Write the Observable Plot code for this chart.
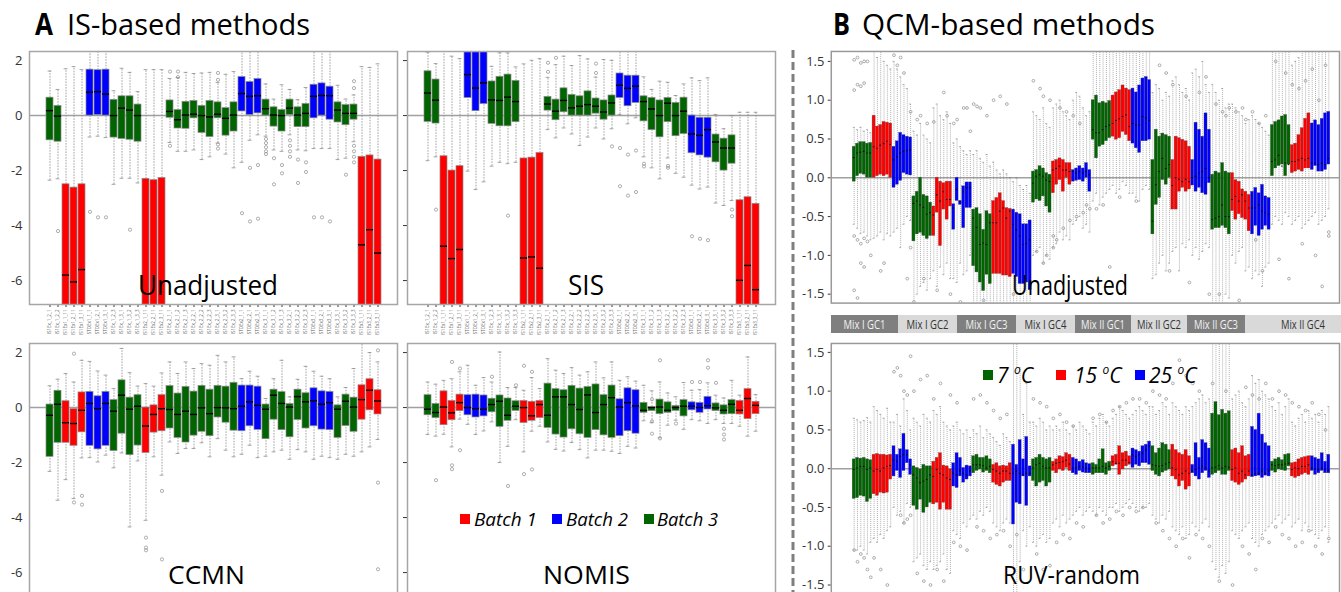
<!DOCTYPE html>
<html><head><meta charset="utf-8">
<script src="https://cdn.jsdelivr.net/npm/d3@7"></script>
<script src="https://cdn.jsdelivr.net/npm/@observablehq/plot@0.6"></script>
<style>
html,body{margin:0;padding:0;background:#fff;}
#page{position:relative;width:1341px;height:592px;overflow:hidden;background:#fff;font-family:"Open Sans",sans-serif;}
.pn{position:absolute;}
.pn svg{display:block;overflow:visible;}
.tiny [aria-label^="x-axis"] text{font-size:4.5px;fill:#666;}
#ov{position:absolute;left:0;top:0;pointer-events:none;}
</style></head>
<body><div id="page"></div>
<script>
// ---------------- DATA ----------------
const sampleLabels = ["IS1Ex_1_2_1","IS1Ex_1_2_2","IS1Ex1_1_11","IS1Ex1_2_11","IS1Ex1_3_11","STDEx1_1_1","STDEx1_2_1","STDEx1_3_1","IS1Ex_1_2_3","IS1Ex_1_3_1","IS1Ex_1_3_2","IS1Ex_1_3_3","IS1Ex2_1_11","IS1Ex2_2_11","IS1Ex2_3_11","IS1Ex_2_1_1","IS1Ex_2_1_2","IS1Ex_2_1_3","IS1Ex_2_2_1","IS1Ex_2_2_2","IS1Ex_2_2_3","IS1Ex_2_3_1","IS1Ex_2_3_2","IS1Ex_2_3_3","STDEx2_1_1","STDEx2_2_1","STDEx2_3_1","IS1Ex_3_1_1","IS1Ex_3_1_2","IS1Ex_3_1_3","IS1Ex_3_2_1","IS1Ex_3_2_2","IS1Ex_3_2_3","STDEx3_1_1","STDEx3_2_1","STDEx3_3_1","IS1Ex_3_3_1","IS1Ex_3_3_2","IS1Ex_3_3_3","IS1Ex3_1_11","IS1Ex3_2_11","IS1Ex3_3_11"];
const batch = [3,3,1,1,1,2,2,2,3,3,3,3,1,1,1,3,3,3,3,3,3,3,3,3,2,2,2,3,3,3,3,3,3,2,2,2,3,3,3,1,1,1];
const batchNames = ["Batch 1","Batch 2","Batch 3"];
const batchColors = ["#ff0000","#0000ff","#006400"];

// Unadjusted (IS)
const unadjQ3 = [0.65,0.35,-2.5,-2.62,-2.5,1.67,1.65,1.67,0.57,0.7,0.7,0.4,-2.3,-2.35,-2.27,0.55,0.2,0.5,0.53,0.35,0.53,0.48,0.27,0.48,1.4,1.22,1.33,0.58,0.3,0.2,0.58,0.3,0.42,1.12,1.17,1.05,0.48,0.38,0.4,-1.5,-1.45,-1.6];
const unadjQ1 = [-0.9,-0.95,-8,-8,-8,0,0.02,0,-0.8,-0.85,-0.88,-0.95,-8,-8,-8,-0.08,-0.47,-0.48,-0.1,-0.63,-0.78,-0.1,-0.73,-0.58,0.15,0.02,0.08,0,-0.4,-0.58,0.02,-0.42,-0.42,-0.1,0,-0.15,-0.25,-0.35,-0.15,-8,-8,-8];
const unadjMed = [0.18,-0.02,-5.8,-6.05,-5.6,0.85,0.87,0.78,0,0.27,0.2,0,-7.5,-7.5,-7.5,0.15,-0.15,0.02,0.05,0,-0.05,0.05,-0.1,0.02,0.8,0.7,0.72,0.25,0.02,0,0.27,0.02,0.08,0.7,0.73,0.72,0.2,0.08,0.08,-4.7,-4.15,-5.0];
const unadjHi = [1.62,0.95,1.7,1.78,1.67,2.6,2.6,2.6,0.9,1.72,1.57,0.87,1.67,1.67,1.67,1.35,1.38,1.57,1.53,1.55,1.57,1.2,1.5,1.6,2.6,2.6,2.6,1.15,0.6,1.12,0.95,0.58,1.02,2.6,2.6,2.6,1.1,0.6,0.75,1.78,1.75,1.88];
const unadjLo = [-2.35,-2.3,-8,-8,-8,-0.78,-0.75,-0.8,-2.5,-2.28,-2.28,-2.45,-8,-8,-8,-0.98,-1.3,-1.3,-1.25,-1.6,-1.5,-1.0,-1.4,-1.9,-1.7,-0.9,-0.7,-0.75,-1.25,-1.3,-0.7,-1.25,-1.28,-1.2,-1.2,-1.2,-1.6,-1.55,-0.95,-8,-8,-8];
const unadjOut = [[2,-4.2],[6,-3.5],[7,-3.7],[8,-3.7],[11,-4.15],[16,1.6],[16,-1.1],[17,1.6],[17,1.4],[22,1.3],[22,1.55],[22,-1.05],[22,-1.2],[25,-3.55],[26,-1.9],[26,-3.85],[27,-1.8],[27,-3.75],[28,-0.85],[28,-1.0],[28,-1.15],[28,-1.3],[28,-1.4],[29,-1.55],[29,-2.5],[30,-1.8],[30,-2.1],[31,-0.9],[31,-1.1],[31,-1.3],[31,-1.5],[32,-1.6],[32,-2.45],[33,-1.7],[33,-2.05],[34,-3.7],[35,-3.7],[36,-3.85],[38,-2.15],[39,1.0],[39,1.25],[39,-1.1],[39,-1.3],[39,-1.5],[39,-1.7]];

// SIS
const sisQ3 = [1.61,1.31,-1.48,-2.0,-1.84,2.6,2.6,2.6,1.24,1.41,1.49,1.26,-1.56,-1.53,-1.36,0.68,0.58,0.99,0.75,0.7,0.88,0.62,0.55,0.73,1.53,1.45,1.45,0.7,0.64,0.55,0.64,0.46,0.65,0,-0.08,-0.08,-0.69,-0.84,-0.72,-3.08,-2.97,-3.21];
const sisQ1 = [-0.23,-0.29,-8,-8,-8,0.64,0.16,0.42,-0.3,-0.39,-0.39,-0.24,-8,-8,-8,0.18,-0.17,0.12,0,0,0,0.07,-0.15,0,0.64,0.34,0.46,-0.21,-0.53,-0.79,-0.24,-0.75,-0.67,-1.37,-1.45,-1.53,-1.7,-2.0,-1.75,-8,-8,-8];
const sisMed = [0.82,0.56,-4.75,-5.2,-4.87,1.49,1.0,1.19,0.57,0.55,0.67,0.51,-5.18,-5.14,-5.55,0.42,0.16,0.55,0.28,0.34,0.4,0.34,0.13,0.46,1.1,0.99,1.07,0.51,0.24,0,0.45,0,0.16,-0.67,-0.72,-0.51,-0.96,-1.18,-1.18,-5.99,-5.45,-6.33];
const sisHi = [2.3,1.89,2.34,2.16,2.07,2.6,2.6,2.6,1.79,2.28,2.28,1.77,1.88,2.01,2.07,1.39,1.85,2.16,1.82,2.18,2.06,1.4,2.04,2.01,2.34,2.34,2.34,1.41,0.95,1.25,1.21,0.73,1.15,1.37,1.27,1.37,0.04,-0.48,0,0.12,0.12,0.12];
const sisLo = [-1.64,-1.5,-8,-8,-8,-2.02,-2.69,-2.41,-1.84,-1.7,-1.75,-1.7,-8,-8,-8,-0.51,-0.81,-0.45,-0.67,-1.09,-0.78,-0.45,-0.85,-0.48,0.04,-0.3,-0.08,-1.5,-1.9,-2.3,-1.54,-2.1,-2.24,-2.53,-2.67,-2.6,-3.18,-3.27,-3.09,-8,-8,-8];
const sisOut = [[2,-3.42],[11,-3.64],[16,1.92],[16,1.59],[17,2.1],[22,1.89],[22,1.55],[24,-1.12],[25,-1.18],[25,-2.57],[26,-1.42],[26,-2.91],[27,-1.27],[27,-2.78],[28,-1.75],[28,-1.85],[31,-1.83],[31,-1.9],[34,-4.39],[35,-4.48],[36,-4.53],[39,-3.42],[39,-3.66]];

// CCMN
const ccmnQ3 = [0.11,0.61,0.23,-0.06,0.55,0.57,0.41,0.57,0.27,0.99,0.36,0.45,0,0.08,0.45,0.78,0.51,0.75,0.58,0.79,0.65,0.79,0.76,0.9,0.8,0.8,0.76,0.11,0.65,0.56,0.13,0.65,0.52,0.7,0.59,0.57,0.08,0.47,0.36,0.81,1.03,0.63];
const ccmnQ1 = [-1.79,-1.28,-1.28,-1.39,-0.9,-1.39,-1.52,-1.39,-1.58,-0.95,-1.73,-1.38,-1.65,-0.91,-0.86,-0.76,-1.1,-1.27,-1.02,-0.88,-1.04,-0.36,-0.55,-0.84,-0.86,-0.68,-0.81,-1.15,-0.44,-0.82,-1.08,-0.45,-0.76,-0.68,-0.8,-0.82,-1.1,-0.67,-0.88,-0.44,-0.1,-0.25];
const ccmnMed = [-0.28,0.12,-0.55,-0.58,-0.1,0.15,-0.04,0.15,-0.13,0.45,-0.06,0.05,-0.67,-0.25,-0.04,-0.07,-0.25,-0.13,-0.25,-0.01,-0.22,0,-0.01,-0.04,0.05,0.21,0.08,-0.06,0.45,0.15,0.02,0.4,0.21,0.25,0.12,0.18,-0.06,0.23,0.02,0.29,0.63,0.24];
const ccmnHi = [0.79,1.03,1.24,0.93,1.72,1.68,1.33,1.18,0.69,2.15,1.27,0.78,0.87,0.78,1.26,1.66,1.24,1.66,1.42,1.6,1.54,1.9,1.66,1.84,1.05,1.32,1.14,0.33,1.05,1.72,0.39,1.03,1.5,1.32,1.14,1.05,0.39,0.73,1.42,2.33,2.0,1.66];
const ccmnLo = [-2.32,-3.37,-2.62,-3.31,-1.83,-1.82,-1.98,-1.73,-2.19,-1.65,-4.34,-1.94,-4.1,-1.79,-2.46,-1.25,-1.67,-1.49,-1.49,-1.28,-1.79,-1.13,-1.55,-1.79,-1.7,-1.37,-1.82,-1.77,-1.61,-1.55,-1.88,-1.53,-1.61,-1.88,-1.77,-1.82,-1.88,-1.7,-1.77,-1.61,-1.43,-1.16];
const ccmnOut = [[4,1.96],[4,-3.45],[5,-3.21],[5,-3.53],[13,-4.73],[13,-5.09],[13,-5.19],[15,-3.03],[15,-5.52],[42,2.08],[42,-2.73],[42,-5.88]];

// NOMIS
const nomisQ3 = [0.45,0.13,0.59,0.24,0.47,0.45,0.47,0.44,0.32,0.44,0.33,0.23,0.24,0.21,0.24,0.87,0.67,0.63,0.79,0.69,0.75,0.84,0.45,0.8,0.3,0.7,0.63,0.17,0.02,0.29,0.19,0.06,0.27,0.19,0.17,0.39,0.15,0.08,0.27,0.24,0.67,0.21];
const nomisQ1 = [-0.28,-0.38,-0.64,-0.46,-0.13,-0.28,-0.36,-0.32,-0.17,-0.7,-0.48,-0.12,-0.56,-0.48,-0.38,-0.74,-0.98,-1.09,-0.79,-0.97,-1.1,-0.82,-1.01,-1.1,-1.04,-0.86,-0.95,-0.19,-0.13,-0.24,-0.19,-0.12,-0.32,-0.1,-0.19,-0.07,-0.13,-0.25,-0.24,-0.25,-0.42,-0.24];
const nomisMed = [-0.06,-0.18,0.02,-0.19,0.18,0,-0.04,-0.06,0.11,0.23,-0.28,0.05,0,-0.3,0.11,-0.28,0.39,0.39,0.11,-0.07,0.46,-0.18,0.11,0.36,0.02,0.18,0.06,-0.1,0,0.02,-0.1,0,0.05,0.05,0,0.07,-0.01,-0.1,0.12,-0.1,0.33,0.08];
const nomisHi = [0.93,0.85,0.99,1.05,1.3,1.54,0.81,1.09,0.93,2.02,0.73,0.73,0.63,1.09,0.69,1.78,1.36,1.24,1.45,1.18,1.3,1.66,1.08,1.66,0.99,1.12,0.96,0.81,0.61,0.93,0.53,0.39,0.91,0.63,0.65,0.9,0.45,0.35,0.99,0.45,1.84,0.47];
const nomisLo = [-0.98,-1.04,-0.97,-1.43,-0.42,-0.61,-0.98,-0.85,-0.52,-2.0,-1.41,-0.44,-1.61,-0.86,-0.68,-1.25,-1.52,-1.58,-1.27,-1.53,-1.83,-1.55,-1.55,-1.59,-1.67,-1.41,-1.47,-0.48,-0.55,-1.1,-0.64,-0.46,-0.79,-0.44,-0.48,-0.58,-0.44,-0.58,-0.58,-0.68,-1.04,-0.86];
const nomisOut = [[2,-2.64],[4,1.66],[4,-2.1],[4,-2.24],[5,1.42],[5,-1.55],[9,1.12],[11,-2.85],[12,0.81],[13,1.52],[13,-2.42],[14,1.3],[14,-2.25],[29,0.3],[29,-0.5],[29,-0.95],[30,1.72],[30,-1.12],[32,-0.58],[34,0.93],[35,0.93],[36,1.72],[36,1.45],[37,0.9],[38,-0.77],[38,-0.98],[38,-1.16]];

// QCM panel B: 8 mixes x (6 x 7 oC, 6 x 15 oC, 6 x 25 oC)
const mixLabels = ["Mix I GC1","Mix I GC2","Mix I GC3","Mix I GC4","Mix II GC1","Mix II GC2","Mix II GC3","Mix II GC4"];
const tempNames = ["7","15","25"];
const tempColors = ["#006400","#ff0000","#0000ff"];

const bTopQ3 = [
[0.40,0.44,0.46,0.46,0.44,0.45, 0.80,0.66,0.68,0.72,0.71,0.70, 0.40,0.47,0.58,0.55,0.53,0.52],
[-0.24,-0.18,0.00,-0.22,-0.24,-0.32, -0.37,0.00,-0.05,-0.07,-0.05,-0.05, -0.34,0.00,-0.30,-0.11,-0.06,-0.06],
[-0.41,-0.39,-0.47,-0.67,-0.43,-0.47, -0.30,-0.26,-0.20,-0.30,-0.39,-0.40, -0.41,-0.45,-0.47,-0.60,-0.60,-0.55],
[0.08,0.10,0.15,0.12,0.06,0.04, 0.21,0.23,0.25,0.23,0.19,0.19, 0.10,0.12,0.15,0.12,0.19,0.10],
[1.00,1.06,0.96,0.98,0.96,0.99, 1.06,1.10,1.13,1.19,1.15,1.13, 1.15,1.10,1.19,1.28,1.30,1.26],
[0.23,0.62,0.53,0.57,0.55,0.53, 0.23,0.53,0.51,0.49,0.47,0.40, 0.23,0.71,0.62,0.53,0.83,0.62],
[0.04,0.08,0.06,0.19,0.08,0.06, 0.06,-0.03,-0.05,-0.15,-0.18,-0.22, -0.18,-0.13,-0.20,-0.09,-0.24,-0.26],
[0.68,0.72,0.74,0.79,0.81,0.68, 0.42,0.44,0.55,0.64,0.76,0.83, 0.70,0.74,0.68,0.76,0.83,0.85]];
const bTopQ1 = [
[-0.05,0.02,0.05,0.04,0.00,0.00, 0.00,0.02,0.04,0.02,0.04,0.00, -0.13,-0.09,-0.04,0.06,0.04,0.03],
[-0.82,-0.73,-0.71,-0.75,-0.79,-0.75, -0.75,-0.45,-0.88,-0.41,-0.54,-0.37, -0.67,-0.30,-0.35,-0.65,-0.39,-0.39],
[-1.14,-1.22,-1.35,-1.46,-1.25,-1.37, -1.24,-1.24,-1.24,-1.26,-1.26,-1.28, -1.24,-1.28,-1.37,-1.37,-1.35,-1.45],
[-0.32,-0.28,-0.30,-0.24,-0.37,-0.45, -0.20,-0.09,-0.03,-0.18,0.00,-0.09, -0.05,-0.04,-0.03,-0.05,0.00,-0.18],
[0.49,0.25,0.40,0.42,0.47,0.51, 0.53,0.49,0.51,0.59,0.55,0.47, 0.44,0.38,0.32,0.47,0.47,0.49],
[-0.73,-0.35,-0.26,-0.03,-0.09,0.00, -0.41,-0.41,-0.18,-0.13,-0.18,-0.15, -0.10,-0.18,-0.13,-0.20,-0.22,-0.07],
[-0.67,-0.65,-0.65,-0.62,-0.65,-0.73, -0.43,-0.54,-0.47,-0.52,-0.54,-0.69, -0.73,-0.62,-0.75,-0.67,-0.62,-0.67],
[0.02,0.12,0.15,0.17,0.02,0.17, 0.06,0.08,0.10,0.08,0.12,0.12, 0.10,0.15,0.08,0.08,0.10,0.17]];
const bTopMed = [
[0.26,0.32,0.33,0.34,0.32,0.32, 0.40,0.38,0.42,0.44,0.47,0.43, 0.23,0.27,0.32,0.34,0.35,0.36],
[-0.33,-0.30,-0.35,-0.38,-0.47,-0.45, -0.48,-0.22,-0.30,-0.18,-0.28,-0.28, -0.39,-0.15,-0.30,-0.18,-0.13,-0.13],
[-0.52,-0.64,-0.86,-0.84,-0.86,-0.58, -0.58,-0.58,-0.43,-0.39,-0.52,-0.43, -0.60,-0.67,-0.75,-0.86,-0.85,-0.80],
[-0.07,0.02,0.04,0.02,-0.03,-0.05, 0.10,0.12,0.15,0.10,0.10,0.08, 0.08,0.06,0.08,0.06,0.08,0.04],
[0.62,0.58,0.58,0.62,0.66,0.68, 0.70,0.74,0.76,0.79,0.81,0.66, 0.70,0.68,0.68,0.79,0.77,0.74],
[-0.56,-0.09,0.08,0.25,0.12,0.17, -0.10,0.00,-0.02,-0.05,-0.02,-0.05, 0.00,0.02,0.06,0.08,0.12,0.00],
[-0.54,-0.52,-0.50,-0.35,-0.50,-0.50, -0.28,-0.24,-0.30,-0.22,-0.30,-0.39, -0.39,-0.39,-0.35,-0.43,-0.45,-0.47],
[0.21,0.23,0.29,0.15,0.19,0.17, 0.21,0.21,0.23,0.25,0.23,0.25, 0.19,0.19,0.17,0.19,0.17,0.25]];
const bTopHi = [
[0.65,0.62,0.65,0.60,0.62,0.58, 1.70,1.55,1.70,1.50,1.45,1.40, 1.50,1.40,1.30,1.20,1.15,0.95],
[0.60,0.55,0.70,0.55,0.50,0.45, 0.90,0.95,0.80,0.75,0.85,0.70, 0.45,0.50,0.40,0.35,0.30,0.35],
[0.30,0.35,0.25,0.20,0.30,0.15, 0.20,0.10,0.05,0.10,0.05,0.00, -0.05,0.00,-0.10,-0.15,-0.10,-0.20],
[0.85,0.80,0.75,0.90,0.70,0.65, 0.90,0.95,1.00,0.85,0.80,0.75, 1.00,1.10,1.05,0.90,0.80,0.85],
[1.70,1.70,1.70,1.70,1.70,1.70, 1.70,1.70,1.70,1.70,1.70,1.70, 1.70,1.70,1.70,1.70,1.70,1.70],
[1.10,1.20,1.15,1.00,1.10,1.05, 1.25,1.30,1.20,1.10,1.15,1.00, 1.35,1.40,1.30,1.50,1.20,1.10],
[1.20,1.10,1.00,1.15,0.90,0.95, 0.95,0.90,0.85,0.80,0.70,0.75, 0.80,0.75,0.70,0.65,0.60,0.55],
[1.70,1.70,1.70,1.70,1.70,1.70, 1.45,1.50,1.55,1.70,1.70,1.70, 1.70,1.70,1.70,1.70,1.70,1.70]];
const bTopLo = [
[-0.60,-0.65,-0.72,-0.70,-0.75,-0.80, -0.78,-0.75,-0.70,-0.80,-0.72,-0.75, -0.70,-0.65,-0.90,-0.60,-0.50,-0.55],
[-1.70,-1.50,-1.40,-1.35,-1.45,-1.30, -1.20,-1.40,-1.15,-1.25,-1.10,-1.30, -1.30,-1.35,-1.10,-1.25,-1.20,-1.00],
[-1.70,-1.70,-1.70,-1.70,-1.70,-1.70, -1.70,-1.70,-1.70,-1.70,-1.70,-1.70, -1.70,-1.70,-1.70,-1.70,-1.70,-1.70],
[-1.00,-0.95,-0.90,-1.10,-1.00,-1.05, -0.90,-0.85,-0.70,-0.80,-0.75,-0.80, -0.60,-0.55,-0.50,-0.65,-0.60,-0.70],
[-0.30,-0.20,-0.35,-0.25,-0.20,-0.15, -0.10,-0.20,-0.15,-0.05,-0.10,-0.20, -0.20,-0.25,-0.30,-0.15,-0.10,-0.15],
[-1.30,-1.25,-1.10,-1.00,-1.20,-1.10, -0.95,-0.90,-1.20,-0.85,-0.90,-0.80, -1.00,-0.90,-1.05,-0.95,-0.85,-0.90],
[-1.70,-1.70,-1.70,-1.70,-1.50,-1.55, -1.00,-1.10,-0.95,-0.90,-1.20,-1.15, -1.30,-1.20,-1.25,-1.40,-1.15,-1.10],
[-0.60,-0.50,-0.55,-0.60,-0.45,-0.50, -0.60,-0.55,-0.50,-0.65,-0.60,-0.55, -0.50,-0.45,-0.60,-0.55,-0.50,-0.40]];
const bTopOut = [[0,1.52],[1,1.55],[2,1.48],[3,1.5],[4,1.5],[0,1.13],[1,1.2],[2,1.18],[3,1.22],[0,-0.75],[1,-0.8],[2,-0.85],[3,-0.78],[4,-0.82],[0,-1.45],[1,-1.55],[2,-1.1],[3,-1.15],[5,-1.0],[8,-1.2],[9,-1.1],[12,1.58],[13,1.45],[14,1.55],[15,1.35],[17,0.85],[16,-1.3],[17,-0.9],
[19,0.75],[20,0.8],[22,0.7],[24,0.72],[27,1.1],[28,0.8],[30,0.7],[31,0.75],[33,0.9],[34,0.9],[35,0.6],[18,-1.6],[21,-1.3],[25,-1.45],[29,-1.5],[32,-1.6],
[36,0.95],[37,0.92],[38,0.9],[40,0.8],[42,1.0],[44,1.05],[46,0.95],[39,-1.58],[48,-1.5],
[54,1.25],[56,1.15],[57,1.05],[59,1.0],[62,0.9],[64,0.85],[66,0.8],[68,0.7],[55,-0.95],[58,-1.0],[60,-0.75],[61,-0.8],[63,-0.65],[65,-0.55],[67,-0.5],[69,-0.45],[70,-0.35],[71,-0.4],[57,-1.1],[60,-0.9],
[73,-0.4],[75,-0.35],[80,-0.25],[85,-0.3],[77,-1.15],
[92,1.45],[94,1.35],[96,1.2],[100,1.05],[104,1.1],[106,1.3],[95,-1.2],[101,-1.35],[107,-1.5],
[109,0.95],[111,0.85],[112,0.8],[113,0.9],[115,0.85],[117,0.9],[118,0.75],[120,0.85],[122,0.7],[124,0.8],[110,-1.5],[116,-1.58],[121,-0.8],[123,-1.2],
[127,1.5],[130,1.35],[132,1.2],[134,1.15],[136,1.25],[138,1.4],[140,1.0],[142,1.45],[128,-1.05],[131,-1.3],[135,-0.85],[139,-1.0],[141,-1.4],[143,-0.75],[143,-0.7]];

const bBotQ3 = [
[0.12,0.14,0.13,0.14,0.12,0.11, 0.18,0.19,0.18,0.18,0.17,0.18, 0.29,0.18,0.25,0.45,0.24,0.12],
[0.03,0.01,-0.01,0.05,0.03,0.03, 0.09,0.14,0.20,0.04,0.03,-0.01, 0.07,0.20,0.14,0.01,0.04,0.03],
[0.16,0.18,0.14,0.14,0.16,0.12, 0.05,0.07,0.03,0.04,0.03,0.07, 0.31,0.05,0.37,0.12,0.41,0.03],
[0.12,0.14,0.18,0.14,0.12,0.14, 0.09,0.12,0.16,0.15,0.20,0.18, 0.14,0.12,0.09,0.11,0.07,0.06],
[0.07,0.05,0.12,0.25,0.07,0.09, 0.16,0.18,0.29,0.20,0.22,0.16, 0.26,0.24,0.22,0.29,0.31,0.35],
[0.29,0.20,0.26,0.33,0.31,0.24, 0.31,0.24,0.20,0.18,0.24,0.16, 0.05,0.33,0.14,0.37,0.33,0.26],
[0.71,0.86,0.69,0.76,0.71,0.74, 0.24,0.26,0.20,0.29,0.16,0.18, 0.54,0.50,0.71,0.44,0.33,0.29],
[0.09,0.12,0.14,0.11,0.18,0.19, 0.07,0.08,0.12,0.14,0.15,0.16, 0.16,0.14,0.12,0.20,0.09,0.18]];
const bBotQ1 = [
[-0.39,-0.38,-0.35,-0.36,-0.43,-0.39, -0.33,-0.35,-0.31,-0.32,-0.31,-0.14, -0.10,-0.03,-0.12,-0.03,0.07,-0.08],
[-0.48,-0.53,-0.40,-0.57,-0.50,-0.44, -0.46,-0.44,-0.53,-0.44,-0.53,-0.53, -0.23,-0.25,-0.10,-0.18,-0.14,-0.10],
[-0.06,-0.03,-0.01,-0.05,-0.03,-0.06, -0.18,-0.21,-0.23,-0.18,-0.16,-0.16, -0.72,-0.44,-0.46,-0.10,-0.48,-0.10],
[-0.16,-0.23,-0.18,-0.16,-0.23,-0.18, -0.03,-0.06,-0.01,-0.03,0.01,-0.03, -0.06,-0.08,-0.03,-0.05,-0.06,-0.06],
[-0.08,-0.06,-0.06,-0.06,-0.08,-0.03, 0.03,0.05,-0.08,-0.01,0.03,0.05, 0.01,0.05,0.03,0.07,0.07,0.05],
[-0.03,-0.08,-0.10,-0.05,-0.03,-0.01, -0.10,-0.14,-0.23,-0.16,-0.27,-0.23, -0.06,-0.10,-0.14,-0.06,-0.03,-0.12],
[-0.08,-0.06,-0.03,-0.08,-0.08,-0.03, -0.16,-0.18,-0.21,-0.18,-0.14,-0.10, -0.11,-0.10,-0.09,-0.12,-0.09,-0.10],
[-0.03,-0.05,-0.01,-0.02,-0.03,0.03, -0.10,-0.12,-0.10,-0.08,-0.06,-0.08, -0.03,-0.08,-0.06,-0.03,-0.06,-0.06]];
const bBotMed = [
[-0.01,0.01,0.03,0.03,-0.01,0.01, -0.03,-0.01,-0.03,0.01,0.03,0.04, 0.11,0.09,0.16,0.18,0.18,0.05],
[-0.08,-0.12,-0.18,-0.16,-0.14,-0.08, -0.10,-0.01,-0.06,-0.08,-0.12,-0.14, -0.06,-0.08,-0.03,-0.06,-0.08,-0.03],
[0.05,0.05,0.05,0.04,0.01,0.03, -0.01,-0.03,-0.06,-0.03,-0.03,-0.06, -0.06,-0.03,-0.06,-0.08,-0.06,-0.06],
[0.01,0.05,0.07,0.03,0.01,0.01, 0.05,0.07,0.08,0.09,0.11,0.06, 0.01,0.01,0.03,0.02,0.01,0.00],
[0.01,0.01,0.01,0.03,0.01,0.03, 0.09,0.07,0.07,0.11,0.11,0.08, 0.18,0.16,0.18,0.20,0.24,0.29],
[0.05,0.04,0.03,0.04,0.06,0.08, 0.01,-0.01,-0.08,-0.06,-0.03,-0.06, -0.03,-0.01,0.01,0.03,0.01,-0.03],
[0.01,0.02,0.04,0.01,0.03,0.02, -0.01,0.01,-0.06,-0.03,-0.08,-0.03, -0.08,-0.06,-0.06,-0.03,-0.06,-0.03],
[0.05,0.04,0.05,0.05,0.06,0.07, -0.01,0.01,0.00,0.03,0.03,0.05, 0.01,0.00,-0.01,0.01,-0.01,-0.02]];
const bBotHi = [
[0.65,0.63,0.60,0.62,0.66,0.60, 0.80,0.75,0.70,0.65,0.78,0.60, 0.60,0.70,0.55,0.90,0.75,0.50],
[0.65,0.60,0.55,0.70,0.65,0.60, 0.75,0.70,0.80,0.60,0.55,0.50, 0.55,0.60,0.50,0.45,0.50,0.40],
[0.50,0.45,0.55,0.40,0.50,0.45, 0.40,0.35,0.30,0.45,0.40,0.35, 1.70,1.70,1.30,0.70,1.10,0.60],
[0.60,0.55,0.65,0.60,0.50,0.55, 0.50,0.55,0.50,0.60,0.50,0.45, 0.55,0.50,0.60,0.55,0.50,0.45],
[0.60,0.55,0.65,0.70,0.60,0.55, 0.65,0.70,0.80,0.75,0.70,0.65, 0.70,0.75,0.80,0.75,0.70,0.80],
[0.80,0.70,0.75,0.85,0.80,0.70, 0.85,0.80,0.75,0.70,0.80,0.75, 0.80,0.85,0.90,0.95,0.85,0.90],
[1.70,1.70,1.70,1.70,1.70,1.70, 0.90,0.95,1.00,0.85,0.80,0.90, 1.20,1.10,1.15,1.00,0.95,0.90],
[0.80,0.75,0.85,0.70,0.80,0.90, 0.60,0.55,0.65,0.70,0.60,0.75, 0.65,0.70,0.60,0.75,0.70,0.80]];
const bBotLo = [
[-1.05,-1.05,-1.00,-1.05,-1.10,-0.95, -0.90,-0.95,-0.85,-0.90,-0.80,-0.75, -0.50,-0.60,-0.55,-0.70,-0.45,-0.50],
[-1.20,-1.15,-1.10,-1.25,-1.30,-1.20, -1.30,-1.25,-1.20,-1.10,-1.30,-1.35, -0.80,-0.85,-0.90,-0.70,-0.75,-0.65],
[-0.60,-0.65,-0.55,-0.60,-0.50,-0.55, -0.70,-0.75,-0.80,-0.70,-0.65,-0.70, -1.70,-1.70,-1.20,-0.80,-1.00,-0.75],
[-0.95,-1.00,-0.90,-0.85,-0.95,-0.90, -0.70,-0.65,-0.75,-0.60,-0.70,-0.65, -0.60,-0.55,-0.50,-0.60,-0.55,-0.50],
[-0.55,-0.60,-0.50,-0.55,-0.60,-0.50, -0.50,-0.45,-0.55,-0.50,-0.45,-0.40, -0.45,-0.50,-0.55,-0.50,-0.50,-0.45],
[-0.60,-0.65,-0.70,-0.60,-0.65,-0.55, -0.75,-0.80,-0.85,-0.75,-0.90,-0.85, -0.70,-0.75,-0.80,-0.70,-0.65,-0.75],
[-1.20,-1.30,-1.40,-1.25,-1.35,-1.20, -0.80,-0.85,-0.90,-0.80,-0.75,-0.70, -0.90,-0.95,-1.00,-0.85,-0.80,-0.75],
[-0.70,-0.65,-0.60,-0.70,-0.65,-0.60, -0.75,-0.70,-0.65,-0.80,-0.70,-0.75, -0.80,-0.85,-0.90,-0.80,-0.75,-0.95]];
const bBotOut = [[0,-1.05],[1,-1.2],[2,-1.1],[3,-1.15],[4,-1.3],[5,-1.4],[6,-1.15],[8,-1.3],[10,-1.5],[12,1.25],[13,1.3],[14,1.2],[15,1.0],[16,0.95],[17,1.45],[14,-0.6],[15,-0.7],[16,-0.65],[17,-0.6],
[18,1.0],[20,1.15],[22,1.2],[24,0.9],[26,1.1],[19,-1.35],[21,-1.45],[23,-1.5],[25,-1.3],[27,-1.45],[30,-0.95],[32,-1.0],[34,-1.05],[29,0.95],[31,0.85],
[36,0.9],[38,0.95],[40,0.85],[42,0.75],[44,0.65],[46,0.7],[37,-0.75],[39,-0.8],[41,-0.9],[43,-0.85],[45,-0.8],[47,-1.0],[49,-0.85],[51,-1.3],
[54,0.9],[56,0.85],[58,0.8],[60,0.65],[62,0.7],[64,0.6],[66,0.55],[55,-1.1],[57,-1.3],[59,-1.25],[61,-0.95],[63,-0.85],[65,-0.9],[67,-0.7],[69,-0.75],
[72,0.65],[74,0.7],[76,0.6],[78,0.75],[80,0.8],[82,0.85],[84,0.9],[86,0.9],[88,0.85],[73,-0.6],[75,-0.7],[77,-0.65],[79,-0.55],[81,-0.6],[83,-0.5],[85,-0.55],[87,-0.5],
[90,1.0],[92,0.95],[94,0.9],[96,1.1],[98,1.4],[100,1.2],[102,1.1],[104,1.0],[91,-0.7],[93,-0.8],[95,-0.9],[97,-1.0],[99,-0.9],[101,-1.15],[103,-0.85],[105,-0.9],[107,-1.0],
[108,1.1],[112,1.0],[118,1.05],[120,0.95],[122,0.9],[124,1.1],[110,-1.45],[114,-1.5],[117,-1.0],[119,-1.1],[121,-1.3],[123,-0.9],[125,-0.95],
[126,0.9],[128,1.0],[130,0.95],[132,0.85],[134,0.8],[136,0.75],[138,0.85],[140,0.7],[142,0.5],[127,-0.75],[129,-0.85],[131,-0.9],[133,-1.0],[135,-0.95],[137,-0.8],[139,-1.0],[141,-1.1],[143,-0.9]];

// ---------------- BUILD ----------------
const page = document.getElementById("page");
const FONT = "'Open Sans', sans-serif";

function boxRows(q1, med, q3, lo, hi, colorOf, base) {
  return q1.map((v, k) => ({i: k + base, q1: v, med: med[k], q3: q3[k], lo: lo[k], hi: hi[k], c: colorOf(k)}));
}
function place(svg, left, top, cls) {
  const d = document.createElement("div");
  d.className = "pn" + (cls ? " " + cls : "");
  d.style.left = left + "px"; d.style.top = top + "px";
  d.appendChild(svg); page.appendChild(d);
}
const idxA = d3.range(1, 43);
const idxB = d3.range(0, 144);

function boxMarks(rows, out, o) {
  return [
    Plot.ruleY([0], {stroke: o.zero, strokeWidth: 1.5}),
    Plot.ruleX(rows, {x: "i", y1: "q3", y2: "hi", stroke: o.wc, strokeWidth: o.ws, strokeDasharray: o.dash, clip: true}),
    Plot.ruleX(rows, {x: "i", y1: "lo", y2: "q1", stroke: o.wc, strokeWidth: o.ws, strokeDasharray: o.dash, clip: true}),
    Plot.tickY(rows, {x: "i", y: "hi", stroke: o.wc, strokeWidth: o.ws, insetLeft: o.capInset, insetRight: o.capInset, clip: true}),
    Plot.tickY(rows, {x: "i", y: "lo", stroke: o.wc, strokeWidth: o.ws, insetLeft: o.capInset, insetRight: o.capInset, clip: true}),
    Plot.dot(out, {x: d => d[0], y: d => d[1], r: o.r, stroke: "#8c8c8c", strokeWidth: 0.7, fill: "none", clip: true}),
    Plot.barY(rows, {x: "i", y1: "q1", y2: "q3", fill: "c", stroke: o.boxStroke, strokeWidth: o.bs, clip: true}),
    Plot.tickY(rows, {x: "i", y: "med", stroke: "#000", strokeWidth: o.ms, insetLeft: o.medInset, insetRight: o.medInset, clip: true}),
    Plot.frame({stroke: o.frame, strokeWidth: 1.5})
  ];
}

function aPanel(rows, out, {yLabels, xAxis, mb}) {
  return Plot.plot({
    width: 400, height: 6 + 253 + mb,
    marginLeft: 29, marginRight: 3, marginTop: 6, marginBottom: mb,
    style: {fontFamily: FONT, fontSize: "13px", color: "#333", background: "transparent", overflow: "visible"},
    x: {type: "band", domain: idxA, paddingInner: 0.17, paddingOuter: 1.78, axis: xAxis ? "bottom" : null,
        tickFormat: i => sampleLabels[i - 1], tickRotate: -90, tickSize: 3, tickPadding: 2, label: null},
    y: {domain: [-6.87, 2.33], ticks: [-6, -4, -2, 0, 2], tickSize: yLabels ? 0 : 4, tickPadding: 7,
        tickFormat: yLabels ? (d => String(d)) : (() => ""), label: null},
    color: {type: "identity"},
    marks: boxMarks(rows, out, {zero: "#a0a0a0", wc: "#8c8c8c", ws: 0.8, dash: "1.6,1.2", capInset: 1.6, r: 1.6, boxStroke: "#8a8a8a", bs: 0.7, ms: 1.4, medInset: 0, frame: "#a6a6a6"})
  });
}

function bPanel(rows, out, domain) {
  return Plot.plot({
    width: 554, height: 265,
    marginLeft: 41, marginRight: 2, marginTop: 6, marginBottom: 6,
    style: {fontFamily: FONT, fontSize: "13px", color: "#333", background: "transparent", overflow: "visible"},
    x: {type: "band", domain: idxB, paddingInner: 0.08, paddingOuter: 4.6, align: 0.7, axis: null},
    y: {domain, ticks: [-1.5, -1, -0.5, 0, 0.5, 1, 1.5], tickSize: 3, tickPadding: 4,
        tickFormat: d => d.toFixed(1), label: null},
    color: {type: "identity"},
    marks: boxMarks(rows, out, {zero: "#a0a0a0", wc: "#7a7a7a", ws: 0.6, dash: "1,1", capInset: 0.6, r: 1.4, boxStroke: "#555", bs: 0.3, ms: 1, medInset: 0.8, frame: "#999"})
  });
}

const colA = k => batchColors[batch[k] - 1];
const colB = k => tempColors[Math.floor((k % 18) / 6)];

place(aPanel(boxRows(unadjQ1, unadjMed, unadjQ3, unadjLo, unadjHi, colA, 1), unadjOut, {yLabels: true, xAxis: true, mb: 40}), 0, 45, "tiny");
place(aPanel(boxRows(sisQ1, sisMed, sisQ3, sisLo, sisHi, colA, 1), sisOut, {yLabels: false, xAxis: true, mb: 40}), 378, 45, "tiny");
place(aPanel(boxRows(ccmnQ1, ccmnMed, ccmnQ3, ccmnLo, ccmnHi, colA, 1), ccmnOut, {yLabels: true, xAxis: false, mb: 10}), 0, 337);
place(aPanel(boxRows(nomisQ1, nomisMed, nomisQ3, nomisLo, nomisHi, colA, 1), nomisOut, {yLabels: false, xAxis: false, mb: 10}), 378, 337);

place(bPanel(boxRows(bTopQ1.flat(), bTopMed.flat(), bTopQ3.flat(), bTopLo.flat(), bTopHi.flat(), colB, 0), bTopOut, [-1.615, 1.628]), 790, 45);
place(bPanel(boxRows(bBotQ1.flat(), bBotMed.flat(), bBotQ3.flat(), bBotLo.flat(), bBotHi.flat(), colB, 0), bBotOut, [-1.63, 1.615]), 790, 337);

// ---------------- OVERLAY TEXT ----------------
const NS = "http://www.w3.org/2000/svg";
const ov = document.createElementNS(NS, "svg");
ov.setAttribute("id", "ov"); ov.setAttribute("width", 1341); ov.setAttribute("height", 592);
page.appendChild(ov);
function el(tag, attrs, text) {
  const e = document.createElementNS(NS, tag);
  for (const k in attrs) e.setAttribute(k, attrs[k]);
  if (text != null) e.textContent = text;
  ov.appendChild(e); return e;
}
function txt(x, y, s, size, opts = {}) {
  const a = {x, y, "font-family": FONT, "font-size": size, fill: opts.fill || "#000"};
  if (opts.weight) a["font-weight"] = opts.weight;
  if (opts.italic) a["font-style"] = "italic";
  if (opts.anchor) a["text-anchor"] = opts.anchor;
  if (opts.len) { a.textLength = opts.len; a.lengthAdjust = "spacingAndGlyphs"; }
  return el("text", a, s);
}
// separator
el("line", {x1: 793, y1: 50, x2: 793, y2: 592, stroke: "#7f7f7f", "stroke-width": 3, "stroke-dasharray": "8,4"});
// headers
txt(35, 35, "A", 30, {weight: "bold", len: 18});
txt(67, 35, "IS-based methods", 30, {len: 243});
txt(833, 35, "B", 30, {weight: "bold", len: 17});
txt(862, 35, "QCM-based methods", 30, {len: 293});
// panel titles
txt(138, 295, "Unadjusted", 28, {len: 140});
txt(568, 295, "SIS", 28, {len: 36});
txt(168, 584, "CCMN", 26, {len: 77});
txt(543, 584, "NOMIS", 26, {len: 87});
txt(1012, 295, "Unadjusted", 28, {len: 116});
txt(1003, 584, "RUV-random", 26, {len: 137});
// legend A
const legA = [[460, 474, 63], [552, 566, 62], [644, 657, 61]];
legA.forEach(([sx, tx, w], k) => {
  el("rect", {x: sx, y: 514, width: 10, height: 10, fill: batchColors[k]});
  txt(tx, 526, batchNames[k], 19, {italic: true, len: w});
});
// legend B
const legB = [[983, 997], [1056, 1074], [1135, 1149]];
legB.forEach(([sx, tx], k) => {
  el("rect", {x: sx, y: 370, width: 10, height: 10, fill: tempColors[k]});
  const t = el("text", {x: tx, y: 383, "font-family": FONT, "font-size": 21, "font-style": "italic", fill: "#000"});
  const a = document.createElementNS(NS, "tspan"); a.textContent = tempNames[k] + " "; t.appendChild(a);
  const b = document.createElementNS(NS, "tspan"); b.textContent = "o"; b.setAttribute("font-size", 12); b.setAttribute("dy", -9); t.appendChild(b);
  const c = document.createElementNS(NS, "tspan"); c.textContent = "C"; c.setAttribute("dy", 9); t.appendChild(c);
});
// mix label band
const mixEdges = [831, 898, 957, 1016, 1075, 1131, 1187, 1245, 1341];
mixLabels.forEach((m, k) => {
  const dark = k % 2 === 0 && k < 7;
  el("rect", {x: mixEdges[k], y: 315, width: mixEdges[k + 1] - mixEdges[k], height: 18, fill: dark ? "#7f7f7f" : "#d9d9d9"});
  const cx = k === 7 ? 1303 : (mixEdges[k] + mixEdges[k + 1]) / 2;
  txt(cx, 328.5, m, 12.5, {anchor: "middle", fill: dark ? "#f2f2f2" : "#333", len: m.includes("II") ? 44 : 42});
});
</script></body></html>
